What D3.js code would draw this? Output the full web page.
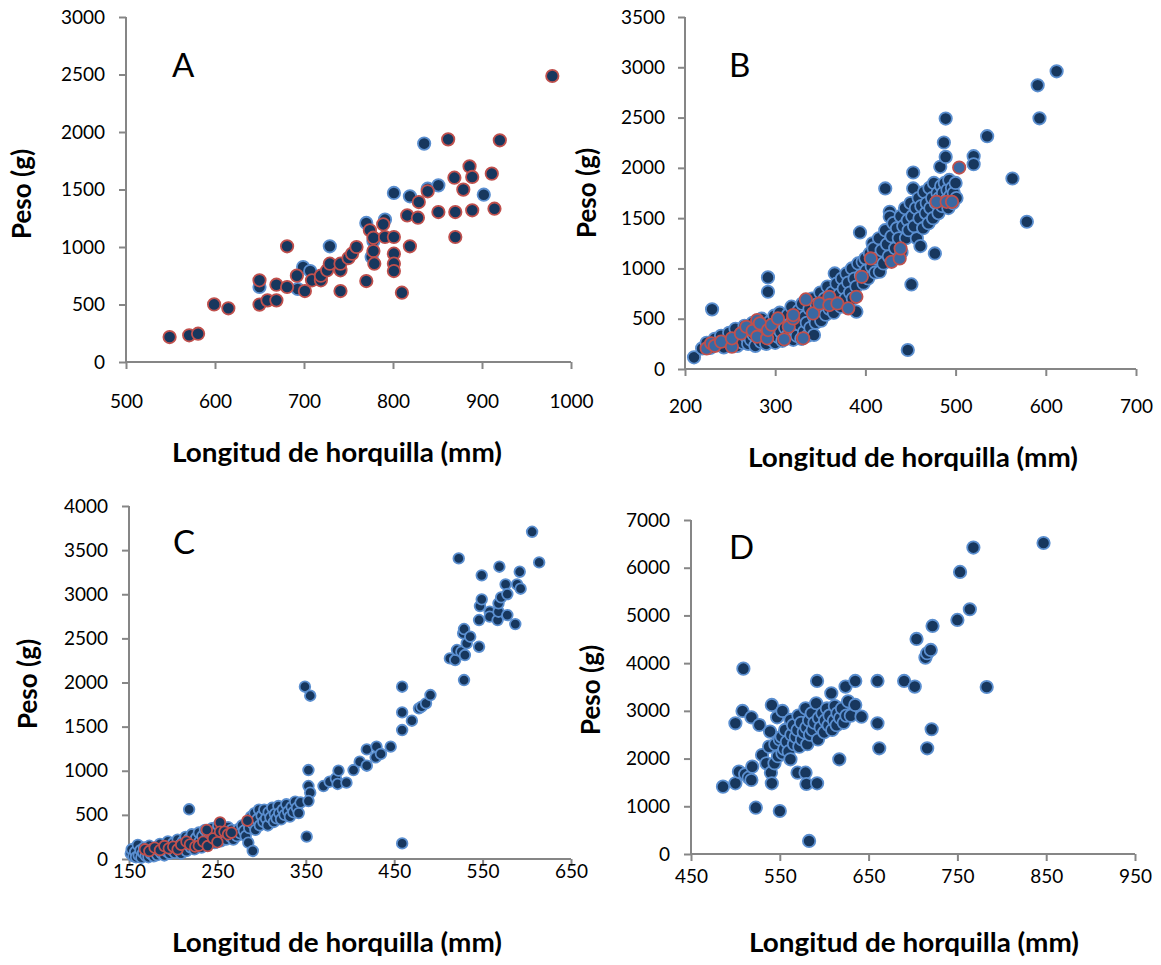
<!DOCTYPE html>
<html><head><meta charset="utf-8">
<script src="https://cdn.jsdelivr.net/npm/d3@7"></script>
<style>html,body{margin:0;padding:0;background:#fff;} svg{display:block;}</style>
</head><body>
<svg id="chart" width="1161" height="965"></svg>
<script>
// ---------- DATA ----------
const xTitle = "Longitud de horquilla (mm)";
const yTitle = "Peso (g)";
const panelLabels = ["A", "B", "C", "D"];

const xTicksA = [500, 600, 700, 800, 900, 1000];
const yTicksA = [0, 500, 1000, 1500, 2000, 2500, 3000];
const xTicksB = [200, 300, 400, 500, 600, 700];
const yTicksB = [0, 500, 1000, 1500, 2000, 2500, 3000, 3500];
const xTicksC = [150, 250, 350, 450, 550, 650];
const yTicksC = [0, 500, 1000, 1500, 2000, 2500, 3000, 3500, 4000];
const xTicksD = [450, 550, 650, 750, 850, 950];
const yTicksD = [0, 1000, 2000, 3000, 4000, 5000, 6000, 7000];

// Panel A
const blueA = [[650,652],[693,635],[699,826],[707,791],[729,1006],[770,1209],[778,1052],[776,913],[791,1238],[801,1470],[819,1441],[835,1899],[839,1507],[851,1536],[902,1455]];
const redA = [[549,217],[571,232],[581,246],[599,501],[615,467],[650,499],[650,710],[659,536],[669,536],[669,672],[681,652],[681,1006],[692,751],[701,617],[709,710],[719,710],[719,751],[726,797],[729,855],[741,617],[741,797],[741,855],[750,904],[754,942],[759,1000],[770,704],[774,1145],[778,1081],[778,965],[779,855],[789,1197],[791,1087],[801,1087],[801,942],[801,855],[801,791],[810,603],[816,1275],[819,1006],[828,1255],[829,1391],[839,1484],[851,1304],[862,1936],[869,1603],[870,1304],[870,1087],[879,1499],[886,1701],[889,1609],[889,1319],[911,1638],[914,1333],[920,1928],[979,2487]];

// Panel B
const blueB = [[210,116],[219,205],[224,260],[228,210],[230,593],[233,300],[236,240],[240,330],[243,215],[246,280],[249,360],[251,245],[254,310],[256,400],[258,230],[260,290],[262,350],[264,260],[266,430],[268,320],[270,250],[271,380],[273,290],[275,460],[276,340],[278,230],[280,400],[282,300],[284,270],[285,500],[286,360],[288,430],[290,250],[292,911],[292,768],[293,330],[294,470],[296,290],[297,390],[299,530],[300,260],[302,440],[303,320],[305,560],[306,370],[308,280],[309,480],[311,410],[312,300],[314,540],[315,350],[317,450],[318,620],[320,290],[321,390],[323,500],[324,330],[326,580],[327,440],[329,300],[330,650],[332,370],[333,520],[335,460],[336,330],[338,600],[339,410],[341,700],[343,338],[343,520],[345,460],[346,640],[348,560],[350,760],[351,480],[353,620],[355,700],[356,540],[358,820],[360,600],[361,680],[363,760],[365,560],[366,950],[368,850],[369,650],[371,740],[373,620],[374,900],[376,800],[378,700],[379,950],[381,860],[383,760],[385,1000],[386,700],[388,900],[390,570],[390,820],[392,1050],[394,1358],[395,930],[397,1066],[398,850],[400,1100],[401,980],[403,900],[405,1150],[407,1020],[408,1250],[409,1199],[411,960],[413,1100],[415,1300],[416,967],[418,1180],[420,1050],[422,1795],[422,1380],[424,1240],[426,1120],[427,1563],[427,1513],[429,1320],[431,1450],[433,1200],[435,1400],[437,1300],[439,1520],[440,1160],[442,1420],[444,1600],[445,1300],[447,189],[447,1480],[448,1380],[450,1650],[451,841],[452,1520],[453,1954],[453,1795],[454,1420],[456,1600],[457,1300],[459,1700],[460,1500],[461,1222],[462,1620],[464,1400],[465,1760],[467,1550],[468,1650],[470,1450],[471,1800],[472,1600],[474,1700],[475,1500],[476,1850],[477,1149],[478,1650],[480,1750],[481,1550],[482,1700],[483,2010],[484,1820],[485,1620],[486,1750],[487,2252],[488,1850],[489,2490],[489,2109],[490,1680],[491,1780],[492,1600],[493,1880],[494,1720],[496,1800],[497,1650],[498,1750],[500,1850],[501,1700],[520,2116],[520,2036],[535,2315],[563,1894],[579,1464],[591,2821],[593,2493],[612,2960]];
const redB = [[224,205],[229,255],[233,230],[240,272],[252,222],[252,305],[262,354],[268,420],[275,380],[280,487],[283,454],[280,321],[291,305],[292,387],[296,440],[303,503],[310,295],[315,420],[320,503],[320,536],[331,305],[334,692],[342,553],[349,652],[360,718],[360,636],[369,652],[381,603],[390,718],[396,917],[406,1099],[429,1066],[438,1099],[439,1199],[479,1662],[490,1662],[496,1662],[504,2003]];

// Panel C
const blueC = [[152,60],[153,110],[155,30],[157,80],[158,20],[160,160],[161,40],[163,100],[164,15],[166,70],[167,130],[169,35],[170,90],[172,20],[173,150],[175,55],[176,110],[178,30],[179,80],[181,130],[182,45],[184,95],[185,170],[187,60],[188,120],[190,40],[191,150],[193,85],[194,200],[196,60],[197,130],[199,100],[200,180],[202,70],[203,140],[205,220],[206,100],[208,160],[209,60],[211,200],[212,120],[214,250],[215,90],[217,170],[218,563],[218,230],[220,130],[221,280],[223,180],[224,110],[226,240],[227,150],[229,300],[230,200],[232,130],[233,260],[235,180],[236,330],[238,230],[239,160],[241,290],[242,200],[244,350],[245,250],[247,180],[248,310],[250,230],[251,380],[253,270],[254,200],[256,340],[257,250],[259,300],[260,220],[262,360],[263,280],[265,250],[266,330],[268,220],[270,300],[272,260],[274,340],[276,290],[278,380],[280,320],[282,260],[284,420],[285,185],[286,350],[288,480],[290,91],[290,400],[292,520],[293,330],[295,450],[297,560],[298,380],[300,490],[302,420],[303,560],[305,460],[307,380],[308,530],[310,470],[312,580],[314,420],[315,510],[317,460],[319,600],[320,520],[322,450],[324,560],[326,500],[328,620],[330,540],[332,480],[334,590],[336,530],[338,650],[340,580],[342,520],[344,640],[351,253],[353,1008],[353,827],[355,751],[353,657],[349,1952],[355,1850],[370,827],[377,876],[384,914],[386,850],[387,1001],[396,865],[404,1008],[411,1103],[419,1242],[419,1057],[429,1152],[430,1273],[435,1190],[446,1273],[459,1461],[459,1662],[459,1952],[459,177],[470,1567],[478,1707],[481,1726],[486,1764],[491,1858],[513,2273],[519,2255],[521,2368],[523,3406],[526,2349],[528,2557],[529,2606],[529,2028],[530,2311],[532,2443],[536,2519],[546,2405],[546,2708],[547,2866],[549,2942],[549,3214],[558,2802],[558,2746],[567,2708],[568,2802],[568,2897],[569,3312],[571,2965],[576,3112],[578,2764],[578,3002],[587,2662],[589,3112],[592,3255],[593,3063],[606,3708],[614,3361]];
const redC = [[168,110],[173,90],[179,128],[185,100],[190,147],[195,120],[200,140],[205,110],[209,159],[215,196],[219,166],[225,140],[229,151],[234,196],[238,329],[239,147],[245,234],[250,190],[253,415],[253,310],[258,310],[262,280],[266,298],[284,434]];

// Panel D
const blueD = [[486,1412],[500,1481],[500,2739],[504,1726],[508,2998],[509,3885],[511,1670],[515,1600],[518,1551],[518,2865],[519,1831],[523,971],[527,2704],[530,2075],[535,1900],[538,2250],[539,2565],[540,1705],[541,1481],[541,3124],[544,1901],[545,2300],[547,2865],[548,2050],[550,901],[550,2400],[552,2460],[553,2110],[553,2998],[555,2200],[556,2600],[558,2350],[560,2150],[562,1985],[562,2809],[563,2500],[565,2700],[566,2300],[568,2450],[570,1705],[570,2600],[571,2900],[572,2250],[574,2750],[575,2400],[577,2550],[579,1705],[579,3054],[580,1467],[580,2650],[581,2300],[583,273],[583,2800],[584,2500],[586,2950],[587,2600],[589,2750],[591,3159],[592,3627],[592,1481],[593,2400],[594,2850],[596,2650],[598,2950],[600,2550],[601,2800],[603,3050],[605,2700],[606,2900],[608,3368],[609,2600],[611,2800],[612,3100],[614,2700],[615,2950],[617,1985],[618,2850],[620,3050],[622,2750],[624,3508],[625,2900],[627,3200],[630,2900],[635,3627],[635,3124],[642,2879],[660,3627],[660,2739],[662,2215],[690,3627],[702,3508],[704,4507],[714,4116],[716,4207],[716,2215],[720,4277],[721,2614],[722,4780],[750,4906],[753,5912],[764,5129],[768,6422],[783,3500],[847,6518]];
const redD = [];

// ---------- LAYOUT ----------
const panels = [
  {label:"A", blue:blueA, red:redA, xt:xTicksA, yt:yTicksA, l:126, r:571, t:17, b:362, xlab:41, ylab:21, xtitle:[337,455], ytitle:[24,194], lab:[172,77], r0:6.2, redFill:"#17375e"},
  {label:"B", blue:blueB, red:redB, xt:xTicksB, yt:yTicksB, l:685, r:1136, t:17, b:369, xlab:39, ylab:20, xtitle:[913,460], ytitle:[589,193], lab:[729,77], r0:6.2, redFill:"#3a68a2"},
  {label:"C", blue:blueC, red:redC, xt:xTicksC, yt:yTicksC, l:129, r:571, t:506, b:859, xlab:13, ylab:21, xtitle:[337,945], ytitle:[30,684], lab:[173,554], r0:5.3, redFill:"#17375e"},
  {label:"D", blue:blueD, red:redD, xt:xTicksD, yt:yTicksD, l:691, r:1135, t:520, b:854, xlab:24, ylab:21, xtitle:[914,945], ytitle:[593,690], lab:[729,559], r0:6.2, redFill:"#17375e"}
];

const svg = d3.select("#chart");
const FONT = "Lato, 'Open Sans', sans-serif";
const AXIS = "#868686";
const fmt = d3.format("d");

panels.forEach(p => {
  const xs = d3.scaleLinear().domain(d3.extent(p.xt)).range([p.l, p.r]);
  const ys = d3.scaleLinear().domain(d3.extent(p.yt)).range([p.b, p.t]);
  const g = svg.append("g");

  const ya = g.append("g").attr("transform", `translate(${p.l},0)`)
    .call(d3.axisLeft(ys).tickValues(p.yt).tickFormat(fmt).tickSize(7).tickPadding(p.ylab - 7));
  const xa = g.append("g").attr("transform", `translate(0,${p.b})`)
    .call(d3.axisBottom(xs).tickValues(p.xt).tickFormat(fmt).tickSize(7).tickPadding(p.xlab - 7 - 8));
  [ya, xa].forEach(a => {
    a.select(".domain").remove();
    a.selectAll(".tick line").attr("stroke", AXIS).attr("stroke-width", 2);
    a.selectAll(".tick text").attr("font-family", FONT).attr("font-size", 19).attr("fill", "#000");
  });
  g.append("line").attr("x1", p.l).attr("x2", p.l).attr("y1", p.t).attr("y2", p.b + 1)
    .attr("stroke", AXIS).attr("stroke-width", 2);
  g.append("line").attr("x1", p.l - 1).attr("x2", p.r).attr("y1", p.b).attr("y2", p.b)
    .attr("stroke", AXIS).attr("stroke-width", 2);

  g.append("g").selectAll("circle").data(p.blue).join("circle")
    .attr("cx", d => xs(d[0])).attr("cy", d => ys(d[1])).attr("r", p.r0)
    .attr("fill", "#17375e").attr("stroke", "#5b8fd0").attr("stroke-width", 1.8);
  g.append("g").selectAll("circle").data(p.red).join("circle")
    .attr("cx", d => xs(d[0])).attr("cy", d => ys(d[1])).attr("r", p.r0)
    .attr("fill", p.redFill).attr("stroke", "#c0504d").attr("stroke-width", 1.8);

  g.append("text").attr("x", p.xtitle[0]).attr("y", p.xtitle[1]).attr("text-anchor", "middle")
    .attr("dominant-baseline", "middle").attr("font-family", FONT).attr("font-weight", "bold")
    .attr("font-size", 26).attr("textLength", 330).attr("lengthAdjust", "spacingAndGlyphs").text(xTitle);
  g.append("text").attr("transform", `translate(${p.ytitle[0]},${p.ytitle[1]}) rotate(-90)`)
    .attr("text-anchor", "middle").attr("dominant-baseline", "middle").attr("font-family", FONT)
    .attr("font-weight", "bold").attr("font-size", 26).text(yTitle);
  g.append("text").attr("x", p.lab[0]).attr("y", p.lab[1]).attr("font-family", FONT)
    .attr("font-size", 33).text(p.label);
});
</script>
</body></html>
